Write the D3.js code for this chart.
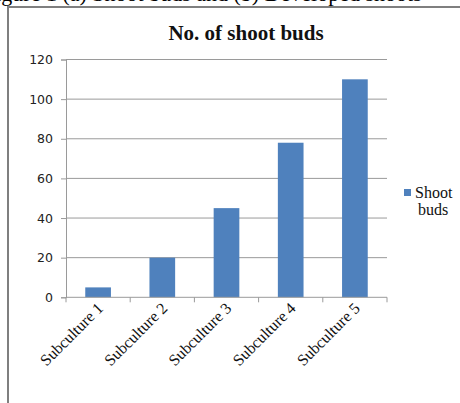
<!DOCTYPE html>
<html><head><meta charset="utf-8">
<script src="https://cdn.jsdelivr.net/npm/d3@7"></script>
<style>body{margin:0;background:#fff}svg{display:block}</style>
</head><body>
<svg id="c" width="460" height="403"></svg>
<script>
const categories = ["Subculture 1","Subculture 2","Subculture 3","Subculture 4","Subculture 5"];
const shootBuds = [5, 20, 45, 78, 110];
const yTicks = [0, 20, 40, 60, 80, 100, 120];
const seriesName = ["Shoot", "buds"];
const title = "No. of shoot buds";

const svg = d3.select("#c");
const pLeft = 66, pRight = 387, pTop = 59.5, pBottom = 297.3;

// caption strip clipped at top
svg.append("text").attr("x", -17).attr("y", 1)
  .attr("font-family", "Liberation Serif").attr("font-size", 22).attr("fill", "#000")
  .text("Figure 1 (a) Shoot buds and (b) Developed shoots");

// frame
svg.append("path").attr("d", "M8,403V7H460").attr("fill", "none")
  .attr("stroke", "#7f7f7f").attr("stroke-width", 2);

const x = d3.scaleBand().domain(categories).range([pLeft, pRight]).paddingInner(0.6).paddingOuter(0.3);
const y = d3.scaleLinear().domain([0, 120]).range([pBottom, pTop]);

// gridlines
svg.append("g").selectAll("line").data(yTicks.filter(d => d > 0)).join("line")
  .attr("x1", pLeft).attr("x2", pRight).attr("y1", d => y(d)).attr("y2", d => y(d))
  .attr("stroke", "#9a9a9a").attr("stroke-width", 1);

// y axis
const ya = svg.append("g").attr("transform", `translate(${pLeft},0)`)
  .call(d3.axisLeft(y).tickValues(yTicks).tickSize(5).tickPadding(8));
ya.select(".domain").attr("stroke", "#9a9a9a");
ya.selectAll(".tick line").attr("stroke", "#9a9a9a");
ya.selectAll("text").attr("font-family", "DejaVu Sans").attr("font-size", 12.5).attr("fill", "#222");

// bars
svg.append("g").selectAll("rect").data(shootBuds).join("rect")
  .attr("x", (d, i) => x(categories[i])).attr("width", x.bandwidth())
  .attr("y", d => y(d)).attr("height", d => y(0) - y(d)).attr("fill", "#4f81bd");

// x axis
const xa = svg.append("g").attr("transform", `translate(0,${pBottom})`);
const xs = d3.scaleLinear().domain([0, categories.length]).range([pLeft, pRight]);
xa.append("line").attr("x1", pLeft).attr("x2", pRight).attr("stroke", "#9a9a9a");
xa.selectAll(".tk").data(d3.range(categories.length + 1)).join("line")
  .attr("x1", d => xs(d)).attr("x2", d => xs(d)).attr("y1", 0).attr("y2", 5).attr("stroke", "#9a9a9a");
xa.selectAll(".lbl").data(categories).join("text")
  .attr("transform", d => `translate(${x(d) + x.bandwidth() / 2 + 6},${12}) rotate(-45)`)
  .attr("text-anchor", "end").attr("font-family", "Liberation Serif").attr("font-size", 16)
  .attr("fill", "#111").text(d => d);

// title
svg.append("text").attr("x", 246).attr("y", 40).attr("text-anchor", "middle")
  .attr("font-family", "Liberation Serif").attr("font-weight", "bold").attr("font-size", 21)
  .attr("fill", "#111").text(title);

// legend
svg.append("rect").attr("x", 404).attr("y", 189).attr("width", 7).attr("height", 7).attr("fill", "#4f81bd");
svg.append("text").attr("font-family", "Liberation Serif").attr("font-size", 16).attr("fill", "#111")
  .selectAll("tspan").data(seriesName).join("tspan")
  .attr("x", (d, i) => i === 0 ? 415 : 418).attr("y", (d, i) => 198 + i * 17).text(d => d);
</script>
</body></html>
